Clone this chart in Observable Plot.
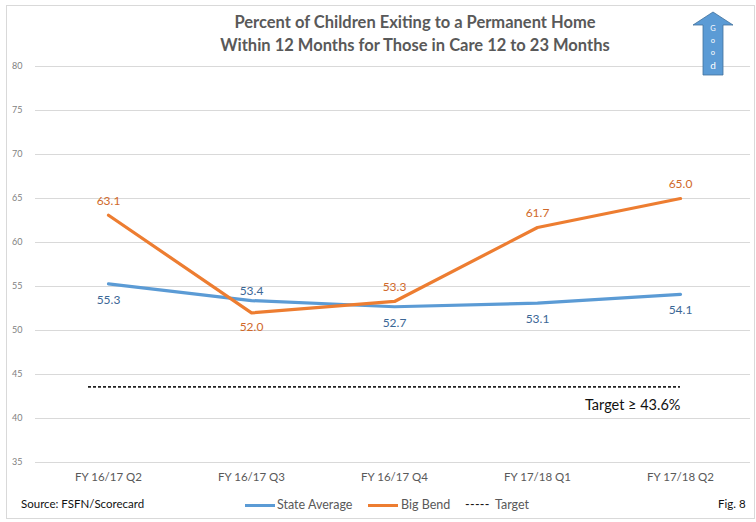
<!DOCTYPE html>
<html>
<head>
<meta charset="utf-8">
<script src="https://cdn.jsdelivr.net/npm/d3@7"></script>
<script src="https://cdn.jsdelivr.net/npm/@observablehq/plot@0.6"></script>
<style>
  html, body { margin: 0; padding: 0; background: #fff; }
  #wrap { position: relative; width: 756px; height: 522px; overflow: hidden; font-family: Lato, "Open Sans", sans-serif; }
  #border { position: absolute; left: 6px; top: 5px; width: 749px; height: 514px; border: 1px solid #d9d9d9; box-sizing: border-box; pointer-events: none; }
  #title { position: absolute; left: 0; top: 11px; width: 830px; text-align: center; font-weight: bold; font-size: 16.5px; line-height: 23px; color: #595959; }
  #chart { position: absolute; left: 0; top: 57px; }
  #footer { position: absolute; left: 0; top: 497px; width: 756px; height: 20px; font-size: 11.5px; }
  #footer > * { position: absolute; top: 0; white-space: nowrap; }
  .lg { font-size: 12.5px; color: #595959; }
  .sw { height: 3px; width: 30px; margin-top: 7px; }
  #arrow { position: absolute; left: 690px; top: 10px; }
</style>
</head>
<body>
<div id="wrap">
  <div id="title">Percent of Children Exiting to a Permanent Home<br>Within 12 Months for Those in Care 12 to 23 Months</div>
  <div id="chart"></div>
  <svg id="arrow" width="46" height="70">
    <polygon points="3,15 23,2 43,15 33,15 33,65 13,65 13,15" fill="#5b9bd5" stroke="#41719c" stroke-width="0.8"/>
    <g fill="#fff" font-family="Lato, sans-serif" text-anchor="middle">
      <text x="23" y="21" font-size="7.5">G</text>
      <text x="23" y="33" font-size="7.5">o</text>
      <text x="23" y="45" font-size="7.5">o</text>
      <text x="23" y="59" font-size="10">d</text>
    </g>
  </svg>
  <div id="footer">
    <span style="left:21px;color:#111">Source: FSFN/Scorecard</span>
    <span class="sw" style="left:245px;background:#5b9bd5"></span>
    <span class="lg" style="left:277px">State Average</span>
    <span class="sw" style="left:368px;background:#ed7d31"></span>
    <span class="lg" style="left:401px">Big Bend</span>
    <span class="lg" style="left:465px;color:#111;letter-spacing:0.3px">-----</span>
    <span class="lg" style="left:495px">Target</span>
    <span style="left:718px;color:#111">Fig. 8</span>
  </div>
  <div id="border"></div>
</div>
<script>
const quarters = ["FY 16/17 Q2", "FY 16/17 Q3", "FY 16/17 Q4", "FY 17/18 Q1", "FY 17/18 Q2"];
const stateAverage = [55.3, 53.4, 52.7, 53.1, 54.1];
const bigBend = [63.1, 52.0, 53.3, 61.7, 65.0];
const target = 43.6;
const yTicks = [35, 40, 45, 50, 55, 60, 65, 70, 75, 80];

const stateRows = quarters.map((q, i) => ({q, v: stateAverage[i]}));
const bendRows = quarters.map((q, i) => ({q, v: bigBend[i]}));
// label placement (rendering choice)
const stateAbove = [false, true, false, false, false];
const bendAbove = [true, false, true, true, true];

const blue = "#5b9bd5", orange = "#ed7d31";
const blueLbl = "#3b6796", orangeLbl = "#d0692a";

const plot = Plot.plot({
  width: 756,
  height: 430,
  marginTop: 9,
  marginBottom: 25,
  marginLeft: 35,
  marginRight: 6,
  style: {fontFamily: "Lato, 'Open Sans', sans-serif", background: "transparent", overflow: "visible"},
  x: {type: "point", domain: quarters, padding: 0, insetLeft: 72, insetRight: 69, label: null},
  y: {domain: [35, 80], label: null},
  marks: [
    Plot.ruleY(yTicks, {stroke: "#d9d9d9", strokeWidth: 1}),
    Plot.axisY({ticks: yTicks, tickSize: 0, tickPadding: 13, fontSize: 9, fill: "#7f7f7f", label: null}),
    Plot.axisX({tickSize: 0, tickPadding: 10, fontSize: 11.5, fill: "#595959", label: null}),
    Plot.ruleY([target], {stroke: "#222", strokeWidth: 1.7, strokeDasharray: "3,2", insetLeft: 53, insetRight: 70}),
    Plot.text([`Target \u2265 ${target}%`], {frameAnchor: "right", y: () => target, dy: 19, dx: -70, textAnchor: "end", fontSize: 14.5, fill: "#111"}),
    Plot.line(stateRows, {x: "q", y: "v", stroke: blue, strokeWidth: 3.2}),
    Plot.line(bendRows, {x: "q", y: "v", stroke: orange, strokeWidth: 3.2}),
    Plot.text(stateRows.filter((d, i) => stateAbove[i]), {x: "q", y: "v", text: d => d.v.toFixed(1), dy: -9, fill: blueLbl, fontSize: 12}),
    Plot.text(stateRows.filter((d, i) => !stateAbove[i]), {x: "q", y: "v", text: d => d.v.toFixed(1), dy: 16, fill: blueLbl, fontSize: 12}),
    Plot.text(bendRows.filter((d, i) => bendAbove[i]), {x: "q", y: "v", text: d => d.v.toFixed(1), dy: -14, fill: orangeLbl, fontSize: 12}),
    Plot.text(bendRows.filter((d, i) => !bendAbove[i]), {x: "q", y: "v", text: d => d.v.toFixed(1), dy: 14, fill: orangeLbl, fontSize: 12})
  ]
});
document.getElementById("chart").appendChild(plot);
</script>
</body>
</html>
